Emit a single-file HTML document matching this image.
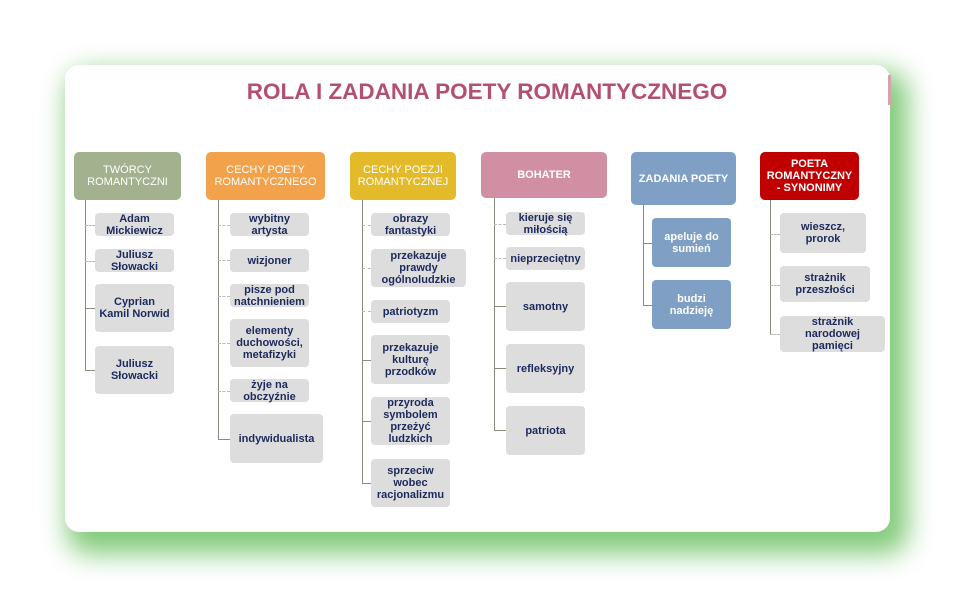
<!DOCTYPE html>
<html><head><meta charset="utf-8"><style>
body{margin:0;width:956px;height:598px;background:#fff;position:relative;overflow:hidden;font-family:"Liberation Sans",Arial,sans-serif}
.card{position:absolute;left:65px;top:65px;width:825px;height:467px;background:#fff;border-radius:14px;box-shadow:10px 14px 26px 8px rgba(100,190,90,.8)}
.t{position:absolute;left:245px;width:484px;top:79px;text-align:center;color:#b3506f;font-weight:bold;font-size:22.5px;white-space:nowrap}
.h,.b{position:absolute;display:flex;align-items:center;justify-content:center;text-align:center;font-weight:bold;font-size:11px;line-height:12px;border-radius:4px;box-sizing:border-box}
.h{color:#fff;top:152px;height:48px;border-radius:5px}
.b{background:#dddddd;color:#1c2a5c}
.bl{background:#7f9fc4;color:#fff}
.v{position:absolute;width:1px;background:#8c8a7c}
.s{position:absolute;height:1px;background:#8c8a7c}
.d{position:absolute;height:0;border-top:1px dashed #bbb}
</style></head><body>
<div class="card"></div>
<div style="position:absolute;left:888px;top:75px;width:3px;height:30px;background:#d9a0ae"></div>
<div class="t">ROLA I ZADANIA POETY ROMANTYCZNEGO</div>

<div class="h" style="left:74px;width:107px;background:#a3b18f;font-weight:normal">TWÓRCY<br>ROMANTYCZNI</div>
<div class="h" style="left:206px;width:119px;background:#f2a24a;font-weight:normal">CECHY POETY<br>ROMANTYCZNEGO</div>
<div class="h" style="left:350px;width:106px;background:#e3ba2a;font-weight:normal">CECHY POEZJI<br>ROMANTYCZNEJ</div>
<div class="h" style="left:481px;width:126px;height:46px;background:#d08fa3">BOHATER</div>
<div class="h" style="left:631px;width:105px;height:53px;background:#7f9fc4">ZADANIA POETY</div>
<div class="h" style="left:760px;width:99px;background:#c00000">POETA<br>ROMANTYCZNY<br>- SYNONIMY</div>

<!-- col1 -->
<div class="v" style="left:85px;top:200px;height:171px"></div>
<div class="d" style="left:85px;top:225px;width:10px"></div>
<div class="d" style="left:85px;top:261px;width:10px"></div>
<div class="s" style="left:85px;top:308px;width:10px"></div>
<div class="s" style="left:85px;top:370px;width:10px"></div>
<div class="b" style="left:95px;top:213px;width:79px;height:23px">Adam<br>Mickiewicz</div>
<div class="b" style="left:95px;top:249px;width:79px;height:23px">Juliusz<br>Słowacki</div>
<div class="b" style="left:95px;top:284px;width:79px;height:48px">Cyprian<br>Kamil Norwid</div>
<div class="b" style="left:95px;top:346px;width:79px;height:48px">Juliusz<br>Słowacki</div>

<!-- col2 -->
<div class="v" style="left:218px;top:200px;height:240px"></div>
<div class="d" style="left:218px;top:225px;width:12px"></div>
<div class="d" style="left:218px;top:260px;width:12px"></div>
<div class="d" style="left:218px;top:296px;width:12px"></div>
<div class="d" style="left:218px;top:343px;width:12px"></div>
<div class="d" style="left:218px;top:391px;width:12px"></div>
<div class="s" style="left:218px;top:439px;width:12px"></div>
<div class="b" style="left:230px;top:213px;width:79px;height:23px">wybitny<br>artysta</div>
<div class="b" style="left:230px;top:249px;width:79px;height:23px">wizjoner</div>
<div class="b" style="left:230px;top:284px;width:79px;height:23px">pisze pod<br>natchnieniem</div>
<div class="b" style="left:230px;top:319px;width:79px;height:48px">elementy<br>duchowości,<br>metafizyki</div>
<div class="b" style="left:230px;top:379px;width:79px;height:23px">żyje na<br>obczyźnie</div>
<div class="b" style="left:230px;top:414px;width:93px;height:49px">indywidualista</div>

<!-- col3 -->
<div class="v" style="left:362px;top:200px;height:284px"></div>
<div class="d" style="left:362px;top:225px;width:9px"></div>
<div class="d" style="left:362px;top:268px;width:9px"></div>
<div class="d" style="left:362px;top:311px;width:9px"></div>
<div class="s" style="left:362px;top:360px;width:9px"></div>
<div class="s" style="left:362px;top:421px;width:9px"></div>
<div class="s" style="left:362px;top:483px;width:9px"></div>
<div class="b" style="left:371px;top:213px;width:79px;height:23px">obrazy<br>fantastyki</div>
<div class="b" style="left:371px;top:249px;width:95px;height:38px">przekazuje<br>prawdy<br>ogólnoludzkie</div>
<div class="b" style="left:371px;top:300px;width:79px;height:23px">patriotyzm</div>
<div class="b" style="left:371px;top:335px;width:79px;height:49px">przekazuje<br>kulturę<br>przodków</div>
<div class="b" style="left:371px;top:397px;width:79px;height:48px">przyroda<br>symbolem<br>przeżyć<br>ludzkich</div>
<div class="b" style="left:371px;top:459px;width:79px;height:48px">sprzeciw<br>wobec<br>racjonalizmu</div>

<!-- col4 -->
<div class="v" style="left:494px;top:198px;height:233px"></div>
<div class="d" style="left:494px;top:224px;width:12px"></div>
<div class="d" style="left:494px;top:258px;width:12px"></div>
<div class="s" style="left:494px;top:306px;width:12px"></div>
<div class="s" style="left:494px;top:368px;width:12px"></div>
<div class="s" style="left:494px;top:430px;width:12px"></div>
<div class="b" style="left:506px;top:212px;width:79px;height:23px">kieruje się<br>miłością</div>
<div class="b" style="left:506px;top:247px;width:79px;height:23px">nieprzeciętny</div>
<div class="b" style="left:506px;top:282px;width:79px;height:49px">samotny</div>
<div class="b" style="left:506px;top:344px;width:79px;height:49px">refleksyjny</div>
<div class="b" style="left:506px;top:406px;width:79px;height:49px">patriota</div>

<!-- col5 -->
<div class="v" style="left:643px;top:205px;height:101px"></div>
<div class="s" style="left:643px;top:243px;width:9px"></div>
<div class="s" style="left:643px;top:305px;width:9px"></div>
<div class="b bl" style="left:652px;top:218px;width:79px;height:49px">apeluje do<br>sumień</div>
<div class="b bl" style="left:652px;top:280px;width:79px;height:49px">budzi<br>nadzieję</div>

<!-- col6 -->
<div class="v" style="left:770px;top:200px;height:135px"></div>
<div class="d" style="left:770px;top:234px;width:10px"></div>
<div class="d" style="left:770px;top:285px;width:10px"></div>
<div class="d" style="left:770px;top:334px;width:10px"></div>
<div class="b" style="left:780px;top:213px;width:86px;height:40px">wieszcz,<br>prorok</div>
<div class="b" style="left:780px;top:266px;width:90px;height:36px">strażnik<br>przeszłości</div>
<div class="b" style="left:780px;top:316px;width:105px;height:36px">strażnik<br>narodowej<br>pamięci</div>
</body></html>
